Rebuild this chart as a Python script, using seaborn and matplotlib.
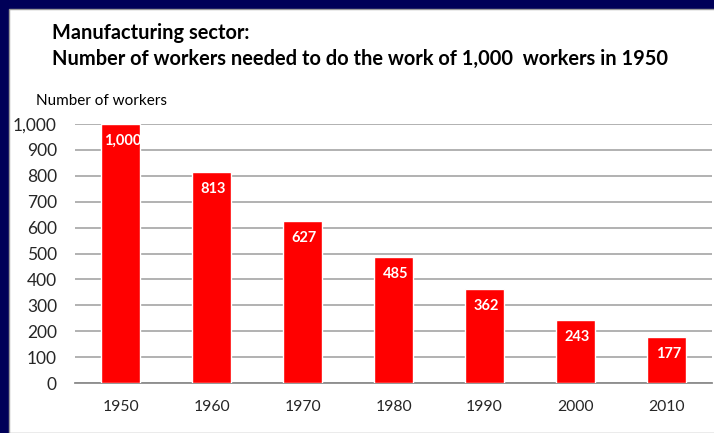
import matplotlib
matplotlib.use("Agg")
import matplotlib.pyplot as plt
import seaborn as sns
import pandas as pd
from matplotlib.patches import Rectangle

years = ["1950", "1960", "1970", "1980", "1990", "2000", "2010"]
workers = [1000, 813, 627, 485, 362, 243, 177]
bar_labels = ["1,000", "813", "627", "485", "362", "243", "177"]
yticks = [0, 100, 200, 300, 400, 500, 600, 700, 800, 900, 1000]
ytick_labels = ["0", "100", "200", "300", "400", "500", "600", "700", "800", "900", "1,000"]

sns.set_style("white")
plt.rcParams["font.family"] = ["Lato", "DejaVu Sans"]

df = pd.DataFrame({"year": years, "workers": workers})

fig = plt.figure(figsize=(7.14, 4.33), dpi=100)
fig.patch.set_facecolor("#000058")
bg = Rectangle((8.5 / 714, 0), 1, 1 - 8.5 / 433, transform=fig.transFigure,
               facecolor="white", edgecolor="#9a9a9a", linewidth=1, zorder=-10)
fig.patches.append(bg)

ax = fig.add_axes([75 / 714, 1 - 383 / 433, (712 - 75) / 714, (383 - 124) / 433])
ax.set_zorder(2)
ax.set_facecolor("white")
sns.barplot(data=df, x="year", y="workers", color="#ff0000", saturation=1, width=0.43, ax=ax, zorder=3)

ax.set_ylim(0, 1000)
ax.set_xlim(-0.5, 6.5)
ax.set_yticks(yticks)
ax.set_yticklabels(ytick_labels, fontsize=12.5)
ax.yaxis.grid(True, color="#9c9c9c", linewidth=1.1, zorder=0)
ax.set_axisbelow(True)
for s in ["top", "right", "left"]:
    ax.spines[s].set_visible(False)
ax.spines["bottom"].set_color("#8c8c8c")
ax.spines["bottom"].set_linewidth(1.3)
ax.set_xlabel("")
ax.set_ylabel("")
ax.tick_params(axis="y", length=0, pad=13, labelsize=12.5)
ax.set_xticks(list(range(len(years))))
ax.set_xticklabels(years, fontsize=11.3)
ax.tick_params(axis="x", length=0, pad=12)
ax.set_xticks([i - 0.5 for i in range(len(years) + 1)], minor=True)
ax.tick_params(axis="x", which="minor", length=5, color="#8c8c8c", width=1.2, direction="out")

for i, (v, lab) in enumerate(zip(workers, bar_labels)):
    ax.annotate(lab, (i, v), xytext=(2, -17), textcoords="offset pixels",
                ha="center", va="center", color="white", fontsize=10.5, fontweight="bold", zorder=5)

fig.text(52 / 714, 1 - 33 / 433, "Manufacturing sector:", fontsize=14.4, fontweight="bold",
         ha="left", va="center", color="black")
fig.text(52 / 714, 1 - 59 / 433, "Number of workers needed to do the work of 1,000  workers in 1950",
         fontsize=14.4, fontweight="bold", ha="left", va="center", color="black")
fig.text(36 / 714, 1 - 101 / 433, "Number of workers", fontsize=11, ha="left", va="center", color="black")

fig.savefig("out.png", dpi=100, facecolor=fig.get_facecolor())
